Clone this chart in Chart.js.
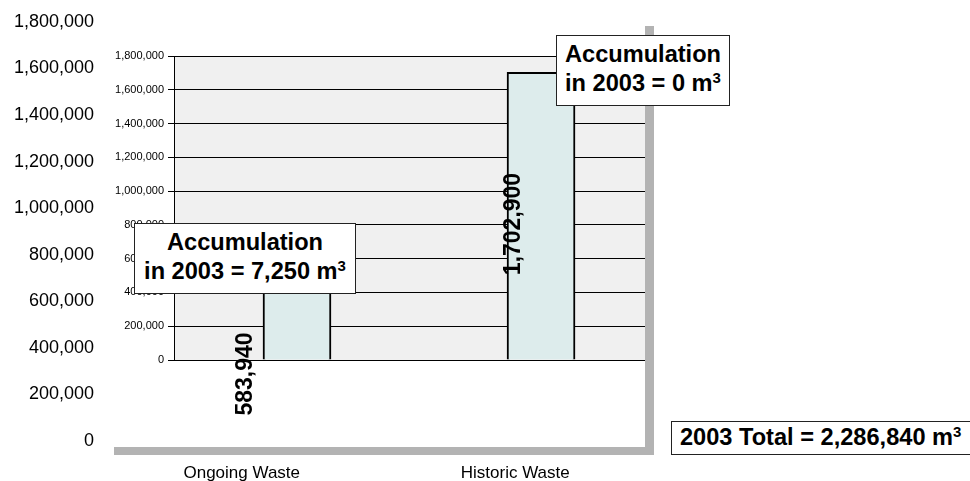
<!DOCTYPE html>
<html>
<head>
<meta charset="utf-8">
<script src="https://cdn.jsdelivr.net/npm/chart.js@4.4.0/dist/chart.umd.min.js"></script>
<style>
body { margin: 0; background: #fff; font-family: "Liberation Sans", Arial, sans-serif; }
#wrap { position: relative; width: 970px; height: 481px; overflow: hidden; }
canvas { position: absolute; left: 0; top: 0; }
.note { position: absolute; background: #fff; border: 1.5px solid #222; box-sizing: border-box;
  font-weight: bold; font-size: 23.6px; color: #000; text-align: center; line-height: 29px; white-space: nowrap; }
.note sup { font-size: 15px; font-weight: bold; vertical-align: 8px; line-height: 0; }
</style>
</head>
<body>
<div id="wrap">
  <canvas id="outer" width="970" height="481"></canvas>
  <canvas id="inner" width="970" height="481"></canvas>
  <div class="note" id="note0" style="left:134px;top:223px;width:222px;height:71px;padding-top:4px;"></div>
  <div class="note" id="note1" style="left:556px;top:35px;width:174px;height:71px;padding-top:4px;"></div>
  <div class="note" id="noteTotal" style="left:671px;top:421px;width:330px;height:34px;text-align:left;padding-left:8px;line-height:31px;"></div>
</div>
<script>
const categories = ["Ongoing Waste", "Historic Waste"];
const volumes = [583940, 1702900];
const accumulation2003 = [7250, 0];
const total2003 = 2286840;
const axisMax = 1800000;
const axisStep = 200000;

const fmt = v => v.toLocaleString("en-US");
const family = '"Liberation Sans", Arial, sans-serif';

document.getElementById("note0").innerHTML = "Accumulation<br>in 2003 = " + fmt(accumulation2003[0]) + " m<sup>3</sup>";
document.getElementById("note1").innerHTML = "Accumulation<br>in 2003 = " + fmt(accumulation2003[1]) + " m<sup>3</sup>";
document.getElementById("noteTotal").innerHTML = "2003 Total = " + fmt(total2003) + " m<sup>3</sup>";

// shadowed frame behind the small chart
const framePlugin = {
  id: "frame",
  beforeDraw(chart) {
    const ctx = chart.ctx;
    ctx.save();
    ctx.fillStyle = "#b3b3b3";
    ctx.fillRect(114, 26, 540, 429);
    ctx.fillStyle = "#fff";
    ctx.fillRect(100, 10, 545, 437);
    ctx.restore();
  }
};

const plotBgPlugin = {
  id: "plotBg",
  beforeDraw(chart) {
    const a = chart.chartArea;
    chart.ctx.save();
    chart.ctx.fillStyle = "#f0f0f0";
    chart.ctx.fillRect(a.left, a.top, a.right - a.left, a.bottom - a.top);
    chart.ctx.restore();
  }
};

// rotated value labels, offset from each bar's base
const labelOffsets = [{ dx: -51, dy: 14 }, { dx: -27, dy: -136 }];
const valueLabelPlugin = {
  id: "valueLabels",
  afterDatasetsDraw(chart) {
    const ctx = chart.ctx;
    const base = chart.scales.y.getPixelForValue(0);
    chart.getDatasetMeta(0).data.forEach((bar, i) => {
      const off = labelOffsets[i];
      ctx.save();
      ctx.translate(bar.x + off.dx, base + off.dy);
      ctx.rotate(-Math.PI / 2);
      ctx.font = "bold 23px " + family;
      ctx.textAlign = "center";
      ctx.textBaseline = "middle";
      ctx.fillStyle = "#000";
      ctx.fillText(fmt(volumes[i]), 0, 0);
      ctx.restore();
    });
  }
};

new Chart(document.getElementById("outer"), {
  type: "bar",
  data: { labels: categories, datasets: [] },
  options: {
    responsive: false,
    animation: false,
    layout: { padding: { top: 21, right: 318, left: 0, bottom: 0 } },
    plugins: { legend: { display: false }, tooltip: { enabled: false } },
    scales: {
      x: {
        offset: true,
        grid: { display: false, drawTicks: false },
        border: { display: false },
        ticks: { color: "#000", font: { family: family, size: 17 }, padding: 22 },
        afterFit: s => { s.height = 40; }
      },
      y: {
        min: 0,
        max: axisMax,
        grid: { display: false, drawTicks: false },
        border: { display: false },
        ticks: { stepSize: axisStep, color: "#000", font: { family: family, size: 18 }, padding: 11, callback: v => fmt(v) },
        afterFit: s => { s.width = 105; }
      }
    }
  },
  plugins: [framePlugin]
});

new Chart(document.getElementById("inner"), {
  type: "bar",
  data: {
    datasets: [{
      data: volumes.map((v, i) => ({ x: i, y: v })),
      backgroundColor: "#ddecec",
      borderColor: "#000",
      borderWidth: 2,
      barThickness: 68
    }]
  },
  options: {
    responsive: false,
    animation: false,
    layout: { padding: { top: 56, right: 325, left: 114, bottom: 121 } },
    plugins: { legend: { display: false }, tooltip: { enabled: false } },
    scales: {
      x: { type: "linear", offset: false, min: -0.504, max: 1.426, display: false },
      y: {
        min: 0,
        max: axisMax,
        grid: { color: "#000", lineWidth: 1, tickLength: 6 },
        border: { color: "#000", width: 1 },
        ticks: { stepSize: axisStep, color: "#000", font: { family: family, size: 11 }, padding: 4, callback: v => fmt(v) },
        afterFit: s => { s.width = 60; }
      }
    }
  },
  plugins: [plotBgPlugin, valueLabelPlugin]
});
</script>
</body>
</html>
